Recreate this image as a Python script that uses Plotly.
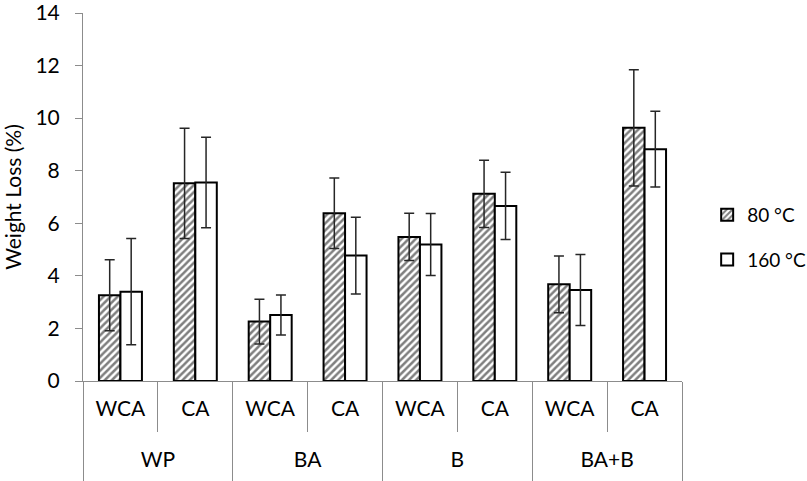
import plotly.graph_objects as go

groups = ["WP", "BA", "B", "BA+B"]
group_of_bar = ["WP", "WP", "BA", "BA", "B", "B", "BA+B", "BA+B"]
sub_of_bar = ["WCA", "CA", "WCA", "CA", "WCA", "CA", "WCA", "CA"]

loss_80 = [3.26, 7.52, 2.26, 6.38, 5.48, 7.12, 3.68, 9.63]
err_80 = [1.35, 2.10, 0.85, 1.34, 0.90, 1.28, 1.08, 2.21]
loss_160 = [3.40, 7.55, 2.51, 4.77, 5.19, 6.66, 3.46, 8.82]
err_160 = [2.02, 1.72, 0.76, 1.46, 1.18, 1.28, 1.35, 1.44]

yticks = [0, 2, 4, 6, 8, 10, 12, 14]

FONT = "Lato"
GRAY = "#8c8c8c"
FS = 21

keys = [g + "|" + s for g, s in zip(group_of_bar, sub_of_bar)]

fig = go.Figure()
fig.add_trace(go.Bar(
    x=keys, y=loss_80, name="80 °C", legendgroup="a",
    marker=dict(color="white", line=dict(color="black", width=2),
                pattern=dict(shape="/", size=5, solidity=0.5,
                             fgcolor="black", bgcolor="white")),
    error_y=dict(type="data", array=err_80, color="#262626", thickness=1.5, width=5),
))
fig.add_trace(go.Bar(
    x=keys, y=loss_160, name="160 °C", legendgroup="b",
    marker=dict(color="white", line=dict(color="black", width=2)),
    error_y=dict(type="data", array=err_160, color="#262626", thickness=1.5, width=5),
))
# invisible carrier trace so the group-label axis is drawn
fig.add_trace(go.Scatter(
    x=groups, y=[0] * len(groups), xaxis="x2", mode="none",
    showlegend=False, hoverinfo="skip",
))

fig.update_layout(
    width=807, height=481,
    margin=dict(l=83, r=125, t=13, b=100, autoexpand=False),
    paper_bgcolor="white", plot_bgcolor="white",
    font=dict(family=FONT, size=FS, color="black"),
    barmode="group", bargap=0.426, bargroupgap=0,
    showlegend=True,
    legend=dict(x=1.042, y=0.39, xanchor="left", yanchor="middle",
                tracegroupgap=17, font=dict(size=19), itemwidth=30),
    xaxis=dict(type="category", categoryorder="array", categoryarray=keys,
               tickmode="array", tickvals=keys, ticktext=sub_of_bar,
               showline=True, linecolor=GRAY, linewidth=1,
               ticks="outside", tickson="boundaries", ticklen=50, tickcolor=GRAY,
               ticklabelstandoff=9, showgrid=False, automargin=False,
               tickfont=dict(size=FS)),
    xaxis2=dict(type="category", categoryorder="array", categoryarray=groups,
                overlaying="x", anchor="y", side="bottom",
                range=[-0.5, len(groups) - 0.5], showline=False, showgrid=False,
                zeroline=False, ticks="outside", tickson="boundaries", ticklen=100,
                tickcolor=GRAY, ticklabelstandoff=64,
                automargin=False, tickfont=dict(size=FS)),
    yaxis=dict(range=[0, 14], tickvals=yticks, showline=True, linecolor=GRAY,
               ticks="outside", ticklen=7, tickcolor=GRAY, showgrid=False,
               zeroline=False, tickfont=dict(size=FS), ticklabelstandoff=11,
               ticklabeloverflow="allow", automargin=False,
               title=dict(text="Weight Loss (%)", font=dict(size=FS), standoff=14)),
)

fig.write_html("out.html", config={"displayModeBar": False},
               post_script="document.body.style.margin='0';")
